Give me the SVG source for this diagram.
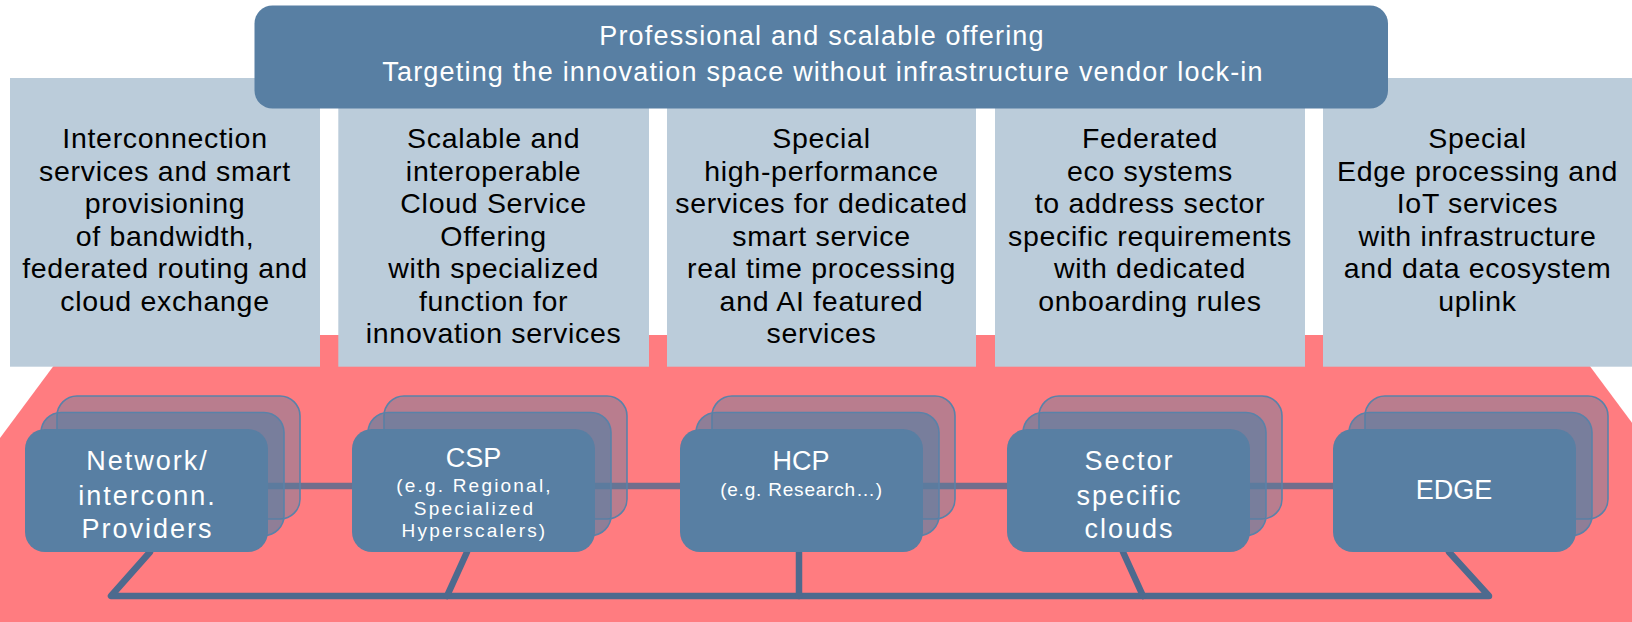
<svg xmlns="http://www.w3.org/2000/svg" width="1632" height="622" viewBox="0 0 1632 622">
<style>
.bg{fill:#FF7C80}
.lb{fill:#BBCCDA}
.db{fill:#587FA3}
.back{fill:#587FA3;fill-opacity:0.42;stroke:#5A82A8;stroke-width:1.6}
.mid{fill:#587FA3;fill-opacity:0.67;stroke:#5A82A8;stroke-width:1.6}
.front{fill:#587FA3}
.bt{font-family:"Liberation Sans",Arial,sans-serif;font-size:28.5px;letter-spacing:0.7px;fill:#000;text-anchor:middle}
.tt{font-family:"Liberation Sans",Arial,sans-serif;font-size:27px;letter-spacing:1.2px;fill:#fff;text-anchor:middle}
.nt{font-family:"Liberation Sans",Arial,sans-serif;font-size:27px;letter-spacing:2px;fill:#fff;text-anchor:middle}
.cap{letter-spacing:0px}
.st{font-family:"Liberation Sans",Arial,sans-serif;font-size:19px;letter-spacing:2.2px;fill:#fff;text-anchor:middle}
.bus{fill:none;stroke:#4D6A8E;stroke-width:6.5;stroke-linejoin:round;stroke-linecap:round}
.link{fill:none;stroke:#4D6A8E;stroke-opacity:0.8;stroke-width:6.5}
</style>
<g id="background">
<polygon class="bg" points="76.5,335 1566.7,335 1632,422.7 1632,622 0,622 0,438"/>
</g>
<g id="box-interconnection">
<rect class="lb" x="10" y="78" width="310" height="288.7"/>
<text class="bt" x="165" y="148.3">Interconnection</text>
<text class="bt" x="165" y="180.8">services and smart</text>
<text class="bt" x="165" y="213.3">provisioning</text>
<text class="bt" x="165" y="245.8">of bandwidth,</text>
<text class="bt" x="165" y="278.3">federated routing and</text>
<text class="bt" x="165" y="310.8">cloud exchange</text>
</g>
<g id="box-scalable">
<rect class="lb" x="338.3" y="78" width="310.7" height="288.7"/>
<text class="bt" x="493.6" y="148.3">Scalable and</text>
<text class="bt" x="493.6" y="180.8">interoperable</text>
<text class="bt" x="493.6" y="213.3">Cloud Service</text>
<text class="bt" x="493.6" y="245.8">Offering</text>
<text class="bt" x="493.6" y="278.3">with specialized</text>
<text class="bt" x="493.6" y="310.8">function for</text>
<text class="bt" x="493.6" y="343.3">innovation services</text>
</g>
<g id="box-highperformance">
<rect class="lb" x="667" y="78" width="309" height="288.7"/>
<text class="bt" x="821.5" y="148.3">Special</text>
<text class="bt" x="821.5" y="180.8">high-performance</text>
<text class="bt" x="821.5" y="213.3">services for dedicated</text>
<text class="bt" x="821.5" y="245.8">smart service</text>
<text class="bt" x="821.5" y="278.3">real time processing</text>
<text class="bt" x="821.5" y="310.8">and AI featured</text>
<text class="bt" x="821.5" y="343.3">services</text>
</g>
<g id="box-federated">
<rect class="lb" x="995" y="78" width="310" height="288.7"/>
<text class="bt" x="1150" y="148.3">Federated</text>
<text class="bt" x="1150" y="180.8">eco systems</text>
<text class="bt" x="1150" y="213.3">to address sector</text>
<text class="bt" x="1150" y="245.8">specific requirements</text>
<text class="bt" x="1150" y="278.3">with dedicated</text>
<text class="bt" x="1150" y="310.8">onboarding rules</text>
</g>
<g id="box-edge-services">
<rect class="lb" x="1323" y="78" width="309" height="288.7"/>
<text class="bt" x="1477.5" y="148.3">Special</text>
<text class="bt" x="1477.5" y="180.8">Edge processing and</text>
<text class="bt" x="1477.5" y="213.3">IoT services</text>
<text class="bt" x="1477.5" y="245.8">with infrastructure</text>
<text class="bt" x="1477.5" y="278.3">and data ecosystem</text>
<text class="bt" x="1477.5" y="310.8">uplink</text>
</g>
<g id="top-offering">
<rect class="db" x="254.5" y="5.5" width="1133.5" height="103" rx="18" ry="18"/>
<text class="tt" x="822" y="45">Professional and scalable offering</text>
<text class="tt" x="823" y="80.7">Targeting the innovation space without infrastructure vendor lock-in</text>
</g>
<g id="connectors">
<line class="link" x1="146" y1="486" x2="1454" y2="486"/>
<path class="bus" d="M150,552 L111,596 L1489,596 L1449,552"/>
<path class="bus" d="M467,552 L447,596"/>
<path class="bus" d="M799,552 L799,596"/>
<path class="bus" d="M1123,552 L1143,596"/>
</g>
<g id="node-network">
<rect class="back" x="57" y="396" width="243" height="123" rx="20" ry="20"/>
<rect class="mid" x="41" y="412.5" width="243" height="123" rx="20" ry="20"/>
<rect class="front" x="25" y="429" width="243" height="123" rx="20" ry="20"/>
<text class="nt" x="147.5" y="470">Network/</text>
<text class="nt" x="147.5" y="505">interconn.</text>
<text class="nt" x="147.5" y="538">Providers</text>
</g>
<g id="node-csp">
<rect class="back" x="384" y="396" width="243" height="123" rx="20" ry="20"/>
<rect class="mid" x="368" y="412.5" width="243" height="123" rx="20" ry="20"/>
<rect class="front" x="352" y="429" width="243" height="123" rx="20" ry="20"/>
<text class="nt cap" x="473.5" y="467.3">CSP</text>
<text class="st" x="474.5" y="492.3">(e.g. Regional,</text>
<text class="st" x="474.5" y="515">Specialized</text>
<text class="st" x="474.5" y="537.3">Hyperscalers)</text>
</g>
<g id="node-hcp">
<rect class="back" x="712" y="396" width="243" height="123" rx="20" ry="20"/>
<rect class="mid" x="696" y="412.5" width="243" height="123" rx="20" ry="20"/>
<rect class="front" x="680" y="429" width="243" height="123" rx="20" ry="20"/>
<text class="nt cap" x="801" y="470">HCP</text>
<text class="st" x="801.5" y="496" style="letter-spacing:0.8px">(e.g. Research…)</text>
</g>
<g id="node-sector">
<rect class="back" x="1039" y="396" width="243" height="123" rx="20" ry="20"/>
<rect class="mid" x="1023" y="412.5" width="243" height="123" rx="20" ry="20"/>
<rect class="front" x="1007" y="429" width="243" height="123" rx="20" ry="20"/>
<text class="nt" x="1129.5" y="470">Sector</text>
<text class="nt" x="1129.5" y="505">specific</text>
<text class="nt" x="1129.5" y="537.7">clouds</text>
</g>
<g id="node-edge">
<rect class="back" x="1365" y="396" width="243" height="123" rx="20" ry="20"/>
<rect class="mid" x="1349" y="412.5" width="243" height="123" rx="20" ry="20"/>
<rect class="front" x="1333" y="429" width="243" height="123" rx="20" ry="20"/>
<text class="nt cap" x="1454" y="499.3">EDGE</text>
</g>
</svg>
